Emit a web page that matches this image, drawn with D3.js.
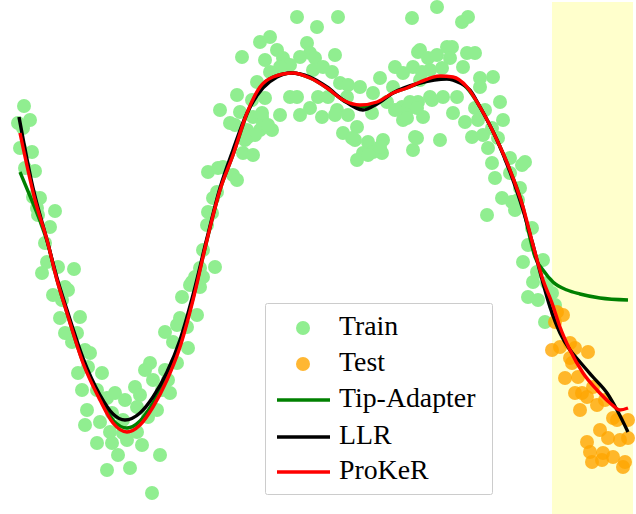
<!DOCTYPE html>
<html>
<head>
<meta charset="utf-8">
<script src="https://cdn.jsdelivr.net/npm/d3@7/dist/d3.min.js"></script>
<style>
html,body{margin:0;padding:0;background:#fff;}
svg{display:block;}
</style>
</head>
<body>
<svg id="chart" width="636" height="514"></svg>
<script>
// ---- data ----
const trainX = [0.24,0.30,0.18,0.23,0.20,0.32,0.25,0.35,0.33,0.40,0.37,0.55,0.38,0.50,0.45,0.47,0.58,0.42,0.74,0.65,0.68,0.53,0.62,0.60,0.80,0.65,0.77,0.72,0.85,0.90,0.78,0.88,1.02,0.82,0.97,1.07,1.15,1.25,1.35,1.40,0.87,0.85,1.00,1.12,1.23,1.37,1.48,1.57,1.10,1.23,1.37,0.97,1.12,1.27,1.42,1.18,1.60,1.07,1.30,1.52,1.50,1.45,1.53,1.65,1.62,1.70,1.68,1.77,1.73,1.65,1.77,1.87,1.88,1.82,1.97,1.90,2.00,2.12,2.07,2.03,2.15,2.00,2.03,1.92,1.80,2.20,2.08,2.18,2.17,2.13,2.08,1.95,
2.97,3.38,3.17,4.12,2.60,2.70,2.42,2.65,2.77,2.83,3.07,3.10,3.15,3.00,2.90,2.80,2.70,3.35,3.13,3.32,2.57,2.37,2.52,2.65,2.40,2.30,2.53,2.62,2.47,2.60,2.72,2.80,2.90,2.97,3.00,3.10,3.22,3.18,3.28,3.37,3.40,3.48,3.60,3.47,3.48,3.57,3.43,3.55,3.68,3.83,3.73,3.82,3.63,3.57,3.80,3.95,4.03,3.93,3.73,3.87,4.02,4.03,4.15,4.13,4.13,4.18,2.43,2.53,2.33,2.23,
4.37,4.62,4.68,4.20,4.28,4.37,4.47,4.52,4.50,4.67,4.75,4.30,4.42,4.63,4.80,4.93,4.80,4.20,4.18,4.32,4.43,4.57,4.07,4.23,4.53,4.65,4.75,4.85,5.00,5.03,4.78,4.40,4.17,4.72,4.83,4.92,4.98,4.88,5.10,5.25,5.22,4.92,4.95,5.10,5.20,5.02,5.12,5.18,5.15,4.87,5.32,5.28,
5.23,5.43,5.37,5.33,5.47,5.28,5.38,5.52,5.55,5.45,
3.23,4.22,3.35,3.72,4.10,4.30,4.07,3.52,3.80,3.68,3.95,4.17,2.35,2.63,2.68,2.48,2.55,2.45,2.37,2.62];
const trainY = [1.94,1.80,1.77,1.72,1.52,1.48,1.32,1.29,1.03,1.02,0.92,0.89,0.85,0.73,0.57,0.38,0.33,0.27,0.31,0.13,0.10,0.05,0.00,-0.18,-0.17,-0.33,-0.33,-0.42,-0.50,-0.53,-0.73,-0.67,-0.73,-0.90,-0.90,-0.98,-0.93,-1.00,-0.87,-0.95,-1.10,-1.25,-1.22,-1.13,-1.20,-1.07,-1.17,-1.10,-1.32,-1.33,-1.32,-1.43,-1.43,-1.40,-1.45,-1.55,-1.55,-1.70,-1.68,-1.93,-0.63,-0.70,-0.80,-0.70,-0.90,-0.93,-0.80,-0.63,-0.42,-0.32,-0.25,-0.27,-0.48,0.03,-0.15,0.15,0.13,0.87,0.75,0.50,0.33,0.32,0.23,0.18,-0.18,1.90,1.28,1.32,1.08,1.02,0.88,0.23,
2.83,2.83,2.73,2.82,2.58,2.63,2.43,2.40,2.50,2.42,2.57,2.47,2.42,2.43,2.35,2.33,2.28,2.45,2.30,2.28,2.18,2.05,2.00,2.02,1.88,1.77,1.83,1.83,1.70,1.70,1.70,1.85,2.03,2.03,1.85,1.92,1.83,2.03,2.03,1.90,2.17,2.15,2.13,2.03,1.85,1.73,1.67,1.60,1.58,1.60,1.48,1.47,1.47,1.40,2.22,2.33,2.27,2.13,2.07,1.98,1.93,1.80,1.63,1.50,2.33,2.48,1.47,1.45,1.25,1.33,
2.93,2.78,2.83,2.50,2.42,2.45,2.53,2.53,2.42,2.47,2.47,2.30,2.32,2.33,2.22,2.23,2.13,2.20,1.98,2.00,2.03,2.03,1.90,1.83,1.87,1.78,1.92,1.90,1.98,1.80,1.80,1.60,1.62,1.63,1.65,1.72,1.62,1.52,1.42,1.38,1.35,1.37,1.22,1.27,1.12,1.02,0.98,1.00,0.90,0.85,0.72,0.55,
0.38,0.40,0.28,0.18,0.17,0.03,0.00,0.07,-0.05,-0.22,
2.33,2.28,1.85,1.87,1.98,2.03,1.82,1.62,1.53,1.45,1.90,1.92,1.75,1.77,1.75,1.63,1.65,1.60,1.20,1.87];

const testX = [5.57,5.63,5.55,5.52,5.60,5.70,5.75,5.70,5.72,5.88,5.65,5.78,5.93,5.75,5.82,5.87,5.97,5.80,6.05,6.13,6.17,6.28,6.00,6.08,6.20,6.28,5.87,5.90,6.03,6.13,5.92,6.02,6.25,6.23];
const testY = [-0.12,-0.15,-0.22,-0.50,-0.47,-0.43,-0.48,-0.58,-0.63,-0.52,-0.78,-0.77,-0.87,-0.93,-0.93,-0.97,-1.05,-1.10,-1.00,-1.18,-1.20,-1.20,-1.30,-1.38,-1.40,-1.38,-1.42,-1.52,-1.53,-1.57,-1.62,-1.60,-1.62,-1.67];

const tipX = [0.20,0.30,0.40,0.47,0.57,0.67,0.83,1.00,1.13,1.27,1.40,1.53,1.67,1.80,1.93,2.07,2.20,2.33,2.47,2.60,2.73,2.93,3.10,3.27,3.43,3.60,3.77,3.93,4.07,4.20,4.40,4.53,4.67,4.80,4.97,5.10,5.23,5.30,5.35,5.43,5.53,5.67,5.80,6.00,6.28];
const tipY = [1.28,1.04,0.79,0.59,0.20,-0.13,-0.62,-0.98,-1.20,-1.28,-1.21,-1.03,-0.77,-0.45,0.02,0.60,1.10,1.45,1.86,2.12,2.23,2.27,2.22,2.12,2.00,1.93,1.97,2.07,2.12,2.17,2.22,2.21,2.12,1.93,1.60,1.30,0.93,0.62,0.43,0.30,0.18,0.10,0.06,0.02,0.00];

const llrX = [0.19,0.33,0.47,0.57,0.67,0.83,1.00,1.13,1.25,1.40,1.53,1.67,1.80,1.93,2.07,2.20,2.33,2.47,2.63,2.77,2.90,3.10,3.27,3.43,3.63,3.77,3.93,4.20,4.47,4.60,4.70,4.80,4.97,5.10,5.23,5.33,5.43,5.50,5.60,5.70,5.80,5.93,6.07,6.17,6.28];
const llrY = [1.83,1.12,0.60,0.22,-0.10,-0.58,-0.95,-1.14,-1.20,-1.13,-0.97,-0.72,-0.40,0.05,0.62,1.12,1.50,1.87,2.12,2.23,2.27,2.23,2.13,2.00,1.90,1.96,2.07,2.17,2.21,2.17,2.10,1.93,1.60,1.28,0.90,0.55,0.17,-0.07,-0.33,-0.50,-0.62,-0.77,-0.93,-1.10,-1.32];

const prokerX = [0.20,0.35,0.47,0.57,0.67,0.83,1.00,1.13,1.27,1.40,1.53,1.67,1.80,1.93,2.07,2.20,2.33,2.47,2.60,2.73,2.93,3.10,3.27,3.43,3.60,3.77,3.93,4.07,4.20,4.40,4.53,4.67,4.80,4.97,5.10,5.23,5.33,5.43,5.52,5.60,5.70,5.83,5.97,6.10,6.20,6.28];
const prokerY = [1.67,1.00,0.60,0.20,-0.13,-0.63,-1.00,-1.23,-1.32,-1.25,-1.07,-0.80,-0.47,0.00,0.60,1.10,1.45,1.87,2.13,2.23,2.27,2.22,2.12,2.00,1.95,1.98,2.07,2.12,2.18,2.24,2.23,2.13,1.93,1.60,1.30,0.93,0.55,0.20,-0.03,-0.27,-0.50,-0.73,-0.90,-1.03,-1.10,-1.08];

const testRange = [5.52, 6.33];

const legendLabels = ["Train","Test","Tip-Adapter","LLR","ProKeR"];

// ---- drawing ----
const W = 636, H = 514;
const svg = d3.select("#chart");
const x = d3.scaleLinear().domain([0, 6.36]).range([0, W]);
const y = d3.scaleLinear().domain([-2.14, 3.0]).range([H, 0]);

// shaded test region
svg.append("rect")
  .attr("x", x(testRange[0])).attr("y", y(2.98))
  .attr("width", x(testRange[1]) - x(testRange[0]))
  .attr("height", y(-2.14) - y(2.98))
  .attr("fill", "#ffffcc");

const R = 7;
const train = trainX.map((v,i)=>({x:v, y:trainY[i]}));
const test = testX.map((v,i)=>({x:v, y:testY[i]}));

svg.append("g").selectAll("circle").data(train).join("circle")
  .attr("cx", d=>x(d.x)).attr("cy", d=>y(d.y)).attr("r", R)
  .attr("fill", "#90ee90");

svg.append("g").selectAll("circle").data(test).join("circle")
  .attr("cx", d=>x(d.x)).attr("cy", d=>y(d.y)).attr("r", R)
  .attr("fill", "#ffa500").attr("fill-opacity", 0.8);

const line = d3.line().x(d=>x(d[0])).y(d=>y(d[1])).curve(d3.curveMonotoneX);
const curves = [
  {xs: tipX, ys: tipY, color: "#008000"},
  {xs: llrX, ys: llrY, color: "#000000"},
  {xs: prokerX, ys: prokerY, color: "#ff0000"}
];
curves.forEach(c=>{
  svg.append("path")
    .datum(c.xs.map((v,i)=>[v, c.ys[i]]))
    .attr("d", line)
    .attr("fill", "none")
    .attr("stroke", c.color)
    .attr("stroke-width", 3.4)
    .attr("stroke-linejoin", "round");
});

// legend
const lg = svg.append("g").attr("transform", "translate(265,303)");
lg.append("rect").attr("x", 0.5).attr("y", 0.5).attr("width", 227).attr("height", 191)
  .attr("rx", 2).attr("fill", "#fff").attr("fill-opacity", 0.8)
  .attr("stroke", "#cccccc").attr("stroke-width", 1);
const rowY = [25, 61, 97, 134, 169];
const kinds = [
  {type:"dot", color:"#90ee90", op:1},
  {type:"dot", color:"#ffa500", op:0.8},
  {type:"line", color:"#008000"},
  {type:"line", color:"#000000"},
  {type:"line", color:"#ff0000"}
];
legendLabels.forEach((lab,i)=>{
  const k = kinds[i];
  if (k.type === "dot") {
    lg.append("circle").attr("cx", 38).attr("cy", rowY[i]).attr("r", R)
      .attr("fill", k.color).attr("fill-opacity", k.op);
  } else {
    lg.append("line").attr("x1", 12).attr("x2", 65).attr("y1", rowY[i]).attr("y2", rowY[i])
      .attr("stroke", k.color).attr("stroke-width", 3.4);
  }
  lg.append("text").attr("x", 74).attr("y", rowY[i] + 7)
    .attr("font-family", "'Liberation Serif', 'Times New Roman', serif")
    .attr("font-size", 27.8).attr("fill", "#000")
    .text(lab);
});
</script>
</body>
</html>
